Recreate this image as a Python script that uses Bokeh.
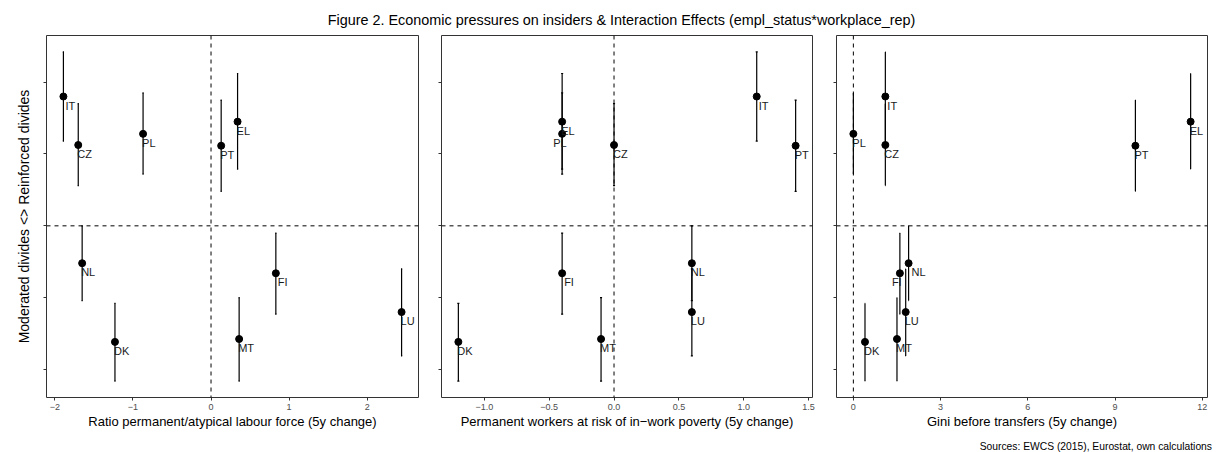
from bokeh.plotting import figure
from bokeh.models import ColumnDataSource, Range1d, FixedTicker, Span, Div
from bokeh.layouts import row, column
from bokeh.core.properties import value
from bokeh.embed import file_html
from bokeh.resources import INLINE

# ---------------- data ----------------
countries = ["IT", "CZ", "PL", "PT", "EL", "NL", "FI", "LU", "MT", "DK"]
# interaction effect estimate and its confidence interval (y axis, unlabelled)
effect = [1.80, 1.125, 1.28, 1.115, 1.45, -0.52, -0.66, -1.20, -1.575, -1.615]
ci_low = [1.18, 0.56, 0.72, 0.48, 0.79, -1.04, -1.23, -1.81, -2.16, -2.16]
ci_high = [2.42, 1.70, 1.85, 1.75, 2.12, 0.0, -0.10, -0.60, -1.00, -1.08]

# x variables (5 year changes)
ratio_change = [-1.89, -1.70, -0.87, 0.13, 0.34, -1.65, 0.83, 2.44, 0.36, -1.23]
poverty_change = [1.1, 0.0, -0.4, 1.4, -0.4, 0.6, -0.4, 0.6, -0.1, -1.2]
gini_change = [1.1, 1.1, 0.0, 9.7, 11.6, 1.9, 1.6, 1.8, 1.5, 0.4]

ratio_ticks = [-2, -1, 0, 1, 2]
ratio_tick_labels = ["\u22122", "\u22121", "0", "1", "2"]
poverty_ticks = [-1.0, -0.5, 0.0, 0.5, 1.0, 1.5]
poverty_tick_labels = ["\u22121.0", "\u22120.5", "0.0", "0.5", "1.0", "1.5"]
gini_ticks = [0, 3, 6, 9, 12]
gini_tick_labels = ["0", "3", "6", "9", "12"]
y_ticks = [-2, -1, 0, 1, 2]

x_titles = [
    "Ratio permanent/atypical labour force (5y change)",
    "Permanent workers at risk of in\u2212work poverty (5y change)",
    "Gini before transfers (5y change)",
]
title_text = "Figure 2. Economic pressures on insiders &amp; Interaction Effects (empl_status*workplace_rep)"
y_title = "Moderated divides <> Reinforced divides"
source_text = "Sources: EWCS (2015), Eurostat, own calculations"

# label nudges (pixels) mimicking the repelled labels of the original
label_nudge = [
    {"IT": 3, "FI": 3},
    {"IT": 3, "FI": 3, "PL": -8},
    {"IT": 3, "NL": 4, "FI": -7},
]

FONT = "Liberation Sans"


def expand(vals_lo, vals_hi, frac=0.05):
    lo, hi = min(vals_lo), max(vals_hi)
    d = (hi - lo) * frac
    return lo - d, hi + d


y_lo, y_hi = expand(ci_low, ci_high)

# (x values, ticks, tick labels, border left, frame width, border right)
panels = [
    (ratio_change, ratio_ticks, ratio_tick_labels, 46, 372, 11),
    (poverty_change, poverty_ticks, poverty_tick_labels, 12, 371, 12),
    (gini_change, gini_ticks, gini_tick_labels, 12, 371, 9),
]

TITLE_H = 33
FRAME_H = 362
BORDER_TOP = 2
BORDER_BOTTOM = 41
SOURCE_H = 14

figs = []
for i, (xs, ticks, tick_labels, bl, fw, br) in enumerate(panels):
    x_lo, x_hi = expand(xs, xs)
    p = figure(
        width=bl + fw + br,
        height=BORDER_TOP + FRAME_H + BORDER_BOTTOM,
        x_range=Range1d(x_lo, x_hi),
        y_range=Range1d(y_lo, y_hi),
        output_backend="svg",
        toolbar_location=None,
        min_border_left=bl,
        min_border_right=br,
        min_border_top=BORDER_TOP,
        min_border_bottom=BORDER_BOTTOM,
    )
    p.grid.visible = False
    p.outline_line_color = "#333333"
    p.outline_line_width = 1
    p.background_fill_color = "white"
    p.border_fill_color = "white"

    # x axis
    p.xaxis.ticker = FixedTicker(ticks=ticks)
    p.xaxis.major_label_overrides = {t: l for t, l in zip(ticks, tick_labels)}
    p.xaxis.axis_line_color = None
    p.xaxis.major_tick_line_color = "#333333"
    p.xaxis.major_tick_out = 3
    p.xaxis.major_tick_in = 0
    p.xaxis.minor_tick_line_color = None
    p.xaxis.major_label_text_font = FONT
    p.xaxis.major_label_text_font_size = "9px"
    p.xaxis.major_label_text_color = "#4d4d4d"
    p.xaxis.major_label_standoff = 3
    p.xaxis.axis_label = x_titles[i]
    p.xaxis.axis_label_text_font = FONT
    p.xaxis.axis_label_text_font_size = "13px"
    p.xaxis.axis_label_text_font_style = "normal"
    p.xaxis.axis_label_text_color = "black"
    p.xaxis.axis_label_standoff = 1

    # y axis (ticks only)
    p.yaxis.ticker = FixedTicker(ticks=y_ticks)
    p.yaxis.major_label_overrides = {t: "" for t in y_ticks}
    p.yaxis.axis_line_color = None
    p.yaxis.major_tick_line_color = "#333333"
    p.yaxis.major_tick_out = 3
    p.yaxis.major_tick_in = 0
    p.yaxis.minor_tick_line_color = None
    p.yaxis.major_label_standoff = 0
    if i == 0:
        p.yaxis.axis_label = y_title
        p.yaxis.axis_label_text_font = FONT
        p.yaxis.axis_label_text_font_size = "14px"
        p.yaxis.axis_label_text_font_style = "normal"
        p.yaxis.axis_label_text_color = "black"
        p.yaxis.axis_label_standoff = 12

    # reference lines
    p.add_layout(Span(location=0, dimension="height", line_color="black",
                      line_width=1, line_dash="4 4"))
    p.add_layout(Span(location=0, dimension="width", line_color="black",
                      line_width=1, line_dash="4 4"))

    cap = 0.008
    src = ColumnDataSource(dict(
        x=xs, y=effect, lo=ci_low, hi=ci_high, label=countries,
        xl=[v - cap for v in xs], xr=[v + cap for v in xs],
        dx=[label_nudge[i].get(c, 0) - 1 for c in countries],
    ))
    p.segment(x0="x", y0="lo", x1="x", y1="hi", source=src,
              line_color="black", line_width=1.2)
    p.segment(x0="xl", y0="lo", x1="xr", y1="lo", source=src,
              line_color="black", line_width=1.2)
    p.segment(x0="xl", y0="hi", x1="xr", y1="hi", source=src,
              line_color="black", line_width=1.2)
    p.scatter(x="x", y="y", source=src, size=7, color="black")
    p.text(x="x", y="y", text="label", source=src, x_offset="dx", y_offset=3,
           text_align="left", text_baseline="top",
           text_font=value(FONT), text_font_size="11px", text_color="#1a1a1a")
    figs.append(p)

TOTAL_W = sum(bl + fw + br for _, _, _, bl, fw, br in panels)

title_div = Div(
    text=('<div style="box-sizing:border-box;width:%dpx;'
          'font-family:\'Liberation Sans\';font-size:14.4px;line-height:16px;'
          'color:black;text-align:center;padding-left:27px;padding-top:12px;'
          'white-space:nowrap;">%s</div>' % (TOTAL_W, title_text)),
    width=TOTAL_W, height=TITLE_H, margin=(0, 0, 0, 0),
)
source_div = Div(
    text=('<div style="box-sizing:border-box;width:%dpx;'
          'font-family:\'Liberation Sans\';font-size:10.3px;line-height:11.5px;'
          'color:black;text-align:right;padding-right:4px;padding-top:2px;'
          'white-space:nowrap;">%s</div>' % (TOTAL_W, source_text)),
    width=TOTAL_W, height=SOURCE_H, margin=(0, 0, 0, 0),
)

layout = column(title_div, row(*figs), source_div)

with open("out.html", "w") as f:
    f.write(file_html(layout, INLINE))
